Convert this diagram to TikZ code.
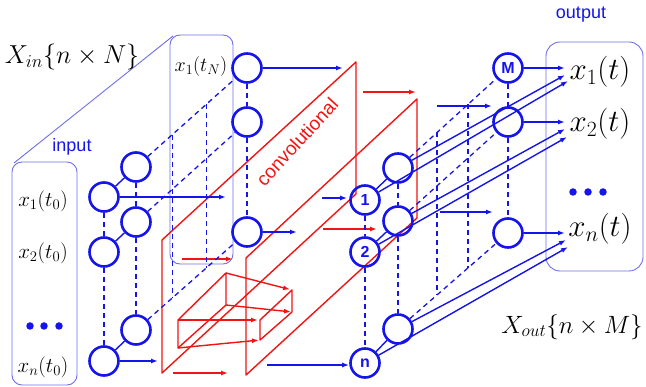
\RequirePackage{fix-cm}
\documentclass[tikz,border=0pt]{standalone}
\usepackage{fontspec}
\setsansfont{Liberation Sans}
\usetikzlibrary{arrows.meta,calc}
\definecolor{myblue}{RGB}{20,20,235}
\definecolor{boxblue}{RGB}{110,110,235}
\definecolor{myred}{RGB}{240,20,20}
\begin{document}
\begin{tikzpicture}[x=1pt,y=-1pt,
  neuron/.style={circle,draw=myblue,line width=2.6pt,minimum size=29pt,inner sep=0pt,
    font=\sffamily\bfseries\fontsize{16}{16}\selectfont,text=myblue},
  conn/.style={draw=myblue,line width=1.4pt},
  dsh/.style={draw=myblue,line width=1.3pt,dash pattern=on 5pt off 4pt},
  arr/.style={conn,-{Latex[length=7pt,width=5pt]}},
  rarr/.style={draw=myred,line width=1.4pt,-{Latex[length=7pt,width=5pt]}},
  plane/.style={draw=myred,line width=1.4pt,line join=round},
  frame/.style={draw=boxblue,line width=0.9pt,rounded corners=10pt},
  blab/.style={text=myblue,font=\sffamily\fontsize{18}{18}\selectfont},
  mlab/.style={font=\fontsize{21}{21}\selectfont,inner sep=0pt},
  olab/.style={font=\fontsize{31}{31}\selectfont,inner sep=0pt},
  dot/.style={circle,fill=myblue,inner sep=0pt,minimum size=7.5pt},
]
\useasboundingbox (0,0) rectangle (646,387);

% frames
\draw[frame] (12,162) rectangle (77,385);
\draw[frame] (170,35) rectangle (233,264);
\draw[frame,rounded corners=14pt] (546,42) rectangle (643,271);
\coordinate (pl1) at (14,163);
\coordinate (pl2) at (173,36);
\draw[draw=boxblue,line width=0.9pt] (pl1) -- (pl2);

% labels
\node[blab] (lin) at (72,147) {input};
\node[blab] (lout) at (581,15) {output};
\node[font=\fontsize{26}{26}\selectfont,inner sep=0pt] (xin) at (72,57) {$X_{in}\bigl\{n\times N\bigr\}$};
\node[font=\fontsize{25}{25}\selectfont,inner sep=0pt] (xout) at (572,327) {$X_{out}\bigl\{n\times M\bigr\}$};
\node[mlab] (l1) at (43,201) {$x_1(t_0)$};
\node[mlab] (l2) at (43,253) {$x_2(t_0)$};
\node[mlab] (ln) at (43,367) {$x_n(t_0)$};
\node[mlab,font=\fontsize{20}{20}\selectfont] (lN) at (201,67) {$x_1(t_N)$};
\node[dot] (d1) at (30,326) {};
\node[dot] (d2) at (44,326) {};
\node[dot] (d3) at (59,326) {};
\node[olab] (o1) at (600,72) {$x_1(t)$};
\node[olab] (o2) at (600,124) {$x_2(t)$};
\node[olab] (on) at (600,229) {$x_n(t)$};
\node[dot] (e1) at (573,192) {};
\node[dot] (e2) at (588,192) {};
\node[dot] (e3) at (603,192) {};

% red planes
\coordinate (p1a) at (162,240); \coordinate (p1b) at (356,62);
\coordinate (p1c) at (356,194); \coordinate (p1d) at (162,373);
\coordinate (p2a) at (246,258); \coordinate (p2b) at (417,99);
\coordinate (p2c) at (417,218); \coordinate (p2d) at (246,375);
\draw[plane] (p1a) -- (p1b) -- (p1c) -- (p1d) -- cycle;
\draw[plane] (p2a) -- (p2b) -- (p2c) -- (p2d) -- cycle;
\node[rotate=47.5,text=myred,font=\sffamily\fontsize{19}{19}\selectfont,inner sep=0pt] (conv) at (297,142) {convolutional};

% kernel
\coordinate (kA) at (178,320); \coordinate (kB) at (178,348);
\coordinate (kC) at (226,273); \coordinate (kD) at (226,305);
\coordinate (kG) at (260,320); \coordinate (kH) at (260,340);
\coordinate (kE) at (292,290); \coordinate (kF) at (292,312);
\draw[plane] (kA) -- (kC) -- (kD) -- (kB) -- cycle;
\draw[plane] (kG) -- (kE) -- (kF) -- (kH) -- cycle;
\draw[rarr,shorten >=2pt] (kC) -- (kE);
\draw[rarr,shorten >=1pt] (kD) -- (kF);
\draw[rarr,shorten >=2pt] (kA) -- (kG);
\draw[rarr,shorten >=1pt] (kB) -- (kH);

% red arrows
\coordinate (r1s) at (182,259); \coordinate (r1e) at (233,259);
\coordinate (r2s) at (173,373); \coordinate (r2e) at (228,373);
\coordinate (r3s) at (363,92);  \coordinate (r3e) at (416,92);
\coordinate (r4s) at (323,229); \coordinate (r4e) at (377,229);
\draw[rarr] (r1s) -- (r1e);
\draw[rarr] (r2s) -- (r2e);
\draw[rarr] (r3s) -- (r3e);
\draw[rarr] (r4s) -- (r4e);

% input neurons
\node[neuron] (i11) at (104,197) {};
\node[neuron] (i12) at (104,252) {};
\node[neuron] (i1n) at (104,361) {};
\node[neuron] (i21) at (136,167) {};
\node[neuron] (i22) at (136,222) {};
\node[neuron] (i2n) at (136,330) {};
\node[neuron] (iN1) at (247,68) {};
\node[neuron] (iN2) at (247,122) {};
\node[neuron] (iNn) at (247,232) {};

% conv neurons
\node[neuron] (a1) at (365,200) {1};
\node[neuron] (a2) at (365,252) {2};
\node[neuron] (an) at (365,363) {n};
\node[neuron] (b1) at (398,168) {};
\node[neuron] (b2) at (398,221) {};
\node[neuron] (bn) at (398,329) {};
\node[neuron] (m1) at (508,68) {M};
\node[neuron] (m2) at (508,122) {};
\node[neuron] (mn) at (508,233) {};

% lattices
\foreach \r in {1,2,n} {
  \draw[conn] (i1\r) -- (i2\r);
  \draw[dsh] (i2\r) -- (iN\r);
  \draw[conn] (a\r) -- (b\r);
  \draw[dsh] (b\r) -- (m\r);
}
\foreach \c in {i1,i2,iN,a,b,m} {
  \draw[dsh] (\c1) -- (\c2);
  \draw[dsh] (\c2) -- (\c n);
}
\draw[dsh] ($(i21)!0.327!(iN1)$) -- ($(i2n)!0.327!(iNn)$);
\draw[dsh] ($(i21)!0.636!(iN1)$) -- ($(i2n)!0.636!(iNn)$);
\draw[dsh] ($(b1)!0.355!(m1)$) -- ($(bn)!0.355!(mn)$);
\draw[dsh] ($(b1)!0.636!(m1)$) -- ($(bn)!0.636!(mn)$);

% input-side arrows
\coordinate (e11) at (226,197);
\coordinate (e1n) at (158,361);
\coordinate (eN1) at (343,68);
\coordinate (eNn) at (297,232);
\draw[arr] (i11) -- (e11);
\draw[arr] (i1n) -- (e1n);
\draw[arr] (iN1) -- (eN1);
\draw[arr] (iNn) -- (eNn);
\coordinate (s1) at (322,198);
\coordinate (sn) at (267,365);
\draw[arr,shorten >=2pt] (s1) -- (s1 -| a1.west);
\draw[arr] (sn) -- (sn -| an.west);
\coordinate (q1s) at (437,106); \coordinate (q1e) at (492,106);
\coordinate (q2s) at (440,212); \coordinate (q2e) at (493,212);
\draw[arr] (q1s) -- (q1e);
\draw[arr] (q2s) -- (q2e);

% output arrows
\coordinate (t1h) at (565,68);  \coordinate (t1b) at (565,75);  \coordinate (t1a) at (568,81);
\coordinate (t2h) at (565,122); \coordinate (t2b) at (565,129); \coordinate (t2a) at (567,137);
\coordinate (tnh) at (565,233); \coordinate (tnb) at (566,240); \coordinate (tna) at (568,247);
\draw[arr] (m1) -- (t1h);
\draw[arr] (b1) -- (t1b);
\draw[arr] (a1) -- (t1a);
\draw[arr] (m2) -- (t2h);
\draw[arr] (b2) -- (t2b);
\draw[arr] (a2) -- (t2a);
\draw[arr] (mn) -- (tnh);
\draw[arr] (bn) -- (tnb);
\draw[arr] (an) -- (tna);
\end{tikzpicture}
\end{document}
